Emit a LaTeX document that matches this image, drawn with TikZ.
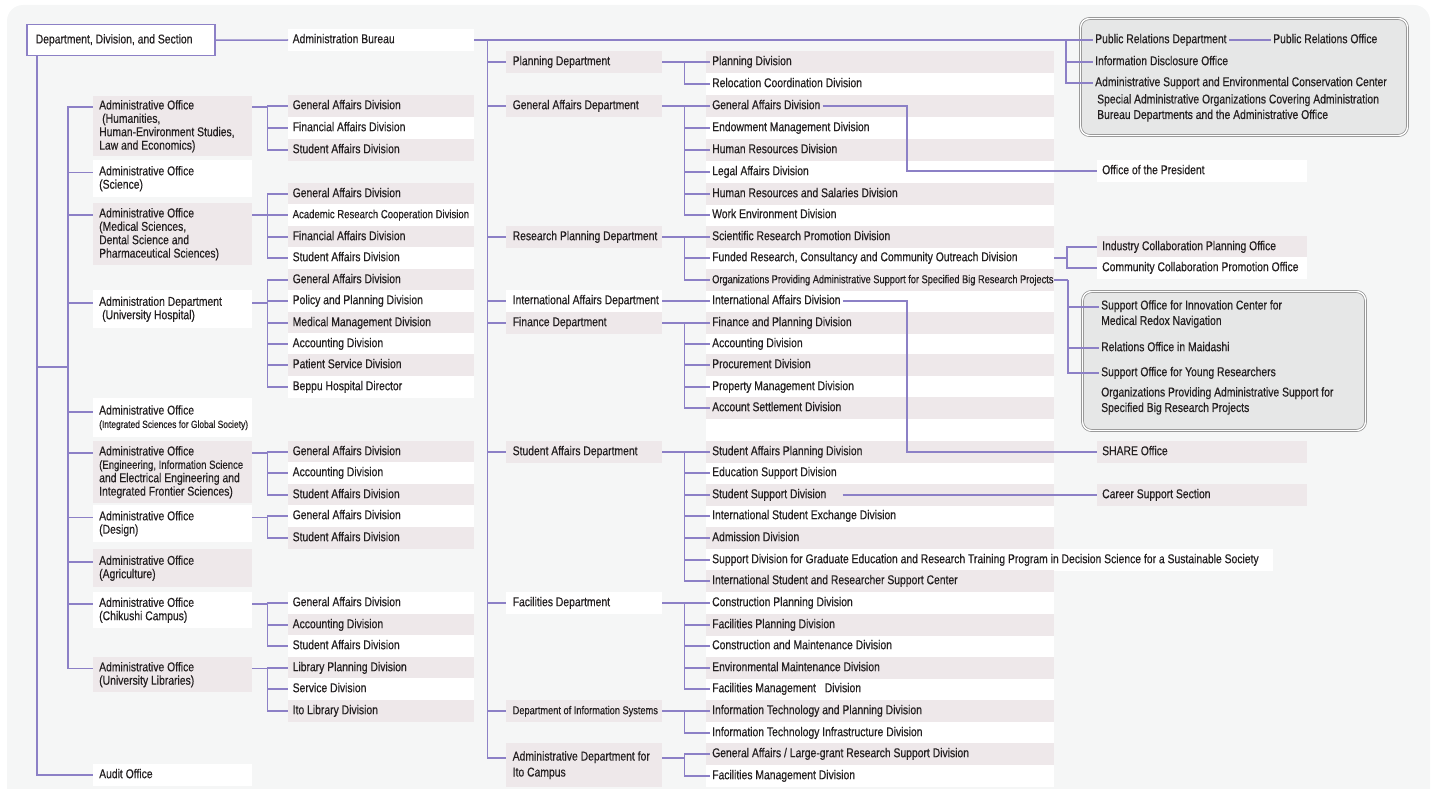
\documentclass[tikz,border=0pt]{standalone}
\usepackage{fontspec}
\setmainfont{Liberation Sans}[FakeStretch=0.81,FakeBold=0.4]
\usetikzlibrary{calc}

\definecolor{pageBg}{HTML}{F5F6F6}
\definecolor{rowShade}{HTML}{EEE8EA}
\definecolor{linkCol}{HTML}{8C80C6}
\definecolor{boxGray}{HTML}{E6E7E7}
\definecolor{ink}{HTML}{231F20}

\newcommand\orgFont{\fontsize{12.8}{13.4}\selectfont}
\newcommand\orgMid{\fontsize{11.8}{13}\selectfont}
\newcommand\orgSmall{\fontsize{11.4}{13}\selectfont}
\newcommand\orgTiny{\fontsize{10.4}{12}\selectfont}
\newcommand\orgNote{\fontsize{12.8}{15.5}\selectfont}

\begin{document}
\begin{tikzpicture}[x=1pt,y=-1pt,
	every node/.style={text=ink,font=\orgFont,inner ysep=0pt,execute at begin node={\spaceskip=0pt\xspaceskip=0pt}},
	link/.style={draw=linkCol,line width=1.5pt},
	elbow/.style={to path={|- (\tikztotarget)}},
	shd/.style={fill=rowShade},
	wht/.style={fill=white},
	cell/.style={anchor=west,align=left,minimum height=21.8pt,text height=9pt,text depth=2.6pt},
	cellC/.style={cell,text width=177pt,inner xsep=4.5pt},
	cellD/.style={cell,text width=143pt,inner xsep=6.5pt},
	cellF/.style={cell,text width=200pt,inner xsep=5pt},
	divText/.style={anchor=west,inner xsep=2pt,text height=9pt,text depth=2.6pt},
	office/.style={anchor=north west,align=left,text width=147pt,inner xsep=6pt},
	boxFrame/.style={fill=boxGray,draw=black!45,line width=0.7pt,double=white,double distance=1.4pt,rounded corners=9pt}]

	% sizes of the division rows
	\def\rowW{348}
	\def\rowH{21.8}

	\useasboundingbox (0,0) rectangle (1437,789);
	\fill[pageBg,rounded corners=16pt] (7,5) rectangle (1430,805);

	% framed groups on the right
	\draw[boxFrame] (1080.5,18.5) rectangle (1407.5,135.5);
	\draw[boxFrame] (1082.5,291.5) rectangle (1365.5,430.5);

	% division rows of the bureau, every second one shaded
	\fill[white] (706,51) rectangle (1054,787);
	\fill[white] (1054,549.1) rectangle (1273,570.9);
	\fill[rowShade] (706,51.1) rectangle +(\rowW,\rowH);
	\fill[rowShade] (706,95.1) rectangle +(\rowW,\rowH);
	\fill[rowShade] (706,139.1) rectangle +(\rowW,\rowH);
	\fill[rowShade] (706,183.1) rectangle +(\rowW,\rowH);
	\fill[rowShade] (706,226.1) rectangle +(\rowW,\rowH);
	\fill[rowShade] (706,269.1) rectangle +(\rowW,\rowH);
	\fill[rowShade] (706,312.1) rectangle +(\rowW,\rowH);
	\fill[rowShade] (706,354.1) rectangle +(\rowW,\rowH);
	\fill[rowShade] (706,397.1) rectangle +(\rowW,\rowH);
	\fill[rowShade] (706,441.1) rectangle +(\rowW,\rowH);
	\fill[rowShade] (706,484.1) rectangle +(\rowW,\rowH);
	\fill[rowShade] (706,527.1) rectangle +(\rowW,\rowH);
	\fill[rowShade] (706,570.1) rectangle +(\rowW,\rowH);
	\fill[rowShade] (706,614.1) rectangle +(\rowW,\rowH);
	\fill[rowShade] (706,657.1) rectangle +(\rowW,\rowH);
	\fill[rowShade] (706,700.1) rectangle +(\rowW,\rowH);
	\fill[rowShade] (706,743.1) rectangle +(\rowW,\rowH);

	% top of the chart
	\node[anchor=north west,align=left,text width=170pt,inner xsep=9pt,minimum height=31pt,text height=9pt,text depth=2.6pt,fill=white,draw=linkCol,line width=1.5pt] (root) at (26,24) {Department, Division, and Section};
	\node[cellC,wht] (bureau) at (288,40) {Administration Bureau};
	\coordinate (trunkB) at (68,367);
	\coordinate (eRight) at (1054,0);
	\coordinate (turnX) at (907,0);

	% administrative offices
	\node[office,shd,minimum height=60pt] (offHum) at (93,96) {Administrative Office\\\hspace*{3pt}(Humanities,\\Human-Environment Studies,\\Law and Economics)};
	\node[office,wht,minimum height=37pt] (offSci) at (93,160) {Administrative Office\\(Science)};
	\node[office,shd,minimum height=62pt] (offMed) at (93,203) {Administrative Office\\(Medical Sciences,\\Dental Science and\\Pharmaceutical Sciences)};
	\node[office,wht,minimum height=38pt] (offHos) at (93,290) {Administration Department\\\hspace*{3pt}(University Hospital)};
	\node[office,wht,minimum height=39pt] (offInt) at (93,398) {Administrative Office\\{\orgTiny\mbox{(Integrated Sciences for Global Society)}}};
	\node[office,shd,minimum height=62pt] (offEng) at (93,441) {Administrative Office\\{\orgMid\mbox{(Engineering, Information Science}}\\and Electrical Engineering and\\Integrated Frontier Sciences)};
	\node[office,wht,minimum height=37pt] (offDes) at (93,505) {Administrative Office\\(Design)};
	\node[office,shd,minimum height=38pt] (offAgr) at (93,549) {Administrative Office\\(Agriculture)};
	\node[office,wht,minimum height=36pt] (offChi) at (93,592) {Administrative Office\\(Chikushi Campus)};
	\node[office,shd,minimum height=35pt] (offLib) at (93,657) {Administrative Office\\(University Libraries)};
	\node[cell,text width=147pt,inner xsep=6pt,wht] (audit) at (93,775) {Audit Office};

	% divisions of the offices
	\node[cellC,shd] (humGA) at (288,106) {General Affairs Division};
	\node[cellC,wht] (humFin) at (288,128) {Financial Affairs Division};
	\node[cellC,shd] (humStu) at (288,150) {Student Affairs Division};
	\node[cellC,shd] (medGA) at (288,194) {General Affairs Division};
	\node[cellC,wht,font=\orgMid] (medAcad) at (288,215) {\mbox{Academic Research Cooperation Division}};
	\node[cellC,shd] (medFin) at (288,237) {Financial Affairs Division};
	\node[cellC,wht] (medStu) at (288,258) {Student Affairs Division};
	\node[cellC,shd] (hosGA) at (288,280) {General Affairs Division};
	\node[cellC,wht] (hosPol) at (288,301) {Policy and Planning Division};
	\node[cellC,shd] (hosMed) at (288,323) {Medical Management Division};
	\node[cellC,wht] (hosAcc) at (288,344) {Accounting Division};
	\node[cellC,shd] (hosPat) at (288,365) {Patient Service Division};
	\node[cellC,wht] (hosBep) at (288,387) {Beppu Hospital Director};
	\node[cellC,shd] (engGA) at (288,452) {General Affairs Division};
	\node[cellC,wht] (engAcc) at (288,473) {Accounting Division};
	\node[cellC,shd] (engStu) at (288,495) {Student Affairs Division};
	\node[cellC,wht] (desGA) at (288,516) {General Affairs Division};
	\node[cellC,shd] (desStu) at (288,538) {Student Affairs Division};
	\node[cellC,wht] (chiGA) at (288,603) {General Affairs Division};
	\node[cellC,shd] (chiAcc) at (288,625) {Accounting Division};
	\node[cellC,wht] (chiStu) at (288,646) {Student Affairs Division};
	\node[cellC,shd] (libPlan) at (288,668) {Library Planning Division};
	\node[cellC,wht] (libSer) at (288,689) {Service Division};
	\node[cellC,shd] (libIto) at (288,711) {Ito Library Division};

	% departments of the bureau
	\node[cellD,shd] (planDept) at (506,62) {Planning Department};
	\node[cellD,shd] (gaDept) at (506,106) {\mbox{General Affairs Department}};
	\node[cellD,shd] (resDept) at (506,237) {\mbox{Research Planning Department}};
	\node[cellD,wht] (intlDept) at (506,301) {\mbox{International Affairs Department}};
	\node[cellD,shd] (finDept) at (506,323) {Finance Department};
	\node[cellD,shd] (stuDept) at (506,452) {\mbox{Student Affairs Department}};
	\node[cellD,wht] (facDept) at (506,603) {Facilities Department};
	\node[cellD,shd,font=\orgSmall] (infoDept) at (506,711) {\mbox{Department of Information Systems}};
	\node[anchor=north west,align=left,text width=143pt,inner xsep=6.5pt,minimum height=44pt,shd] (itoDept) at (506,743) {\mbox{Administrative Department for}\\[2.6pt]Ito Campus};

	% divisions of the bureau
	\node[divText] (planDiv) at (710,62) {Planning Division};
	\node[divText] (relocDiv) at (710,84) {Relocation Coordination Division};
	\node[divText] (gaDiv) at (710,106) {General Affairs Division};
	\node[divText] (endowDiv) at (710,128) {Endowment Management Division};
	\node[divText] (hrDiv) at (710,150) {Human Resources Division};
	\node[divText] (legalDiv) at (710,172) {Legal Affairs Division};
	\node[divText] (salDiv) at (710,194) {Human Resources and Salaries Division};
	\node[divText] (workDiv) at (710,215) {Work Environment Division};
	\node[divText] (sciDiv) at (710,237) {Scientific Research Promotion Division};
	\node[divText] (fundDiv) at (710,258) {Funded Research, Consultancy and Community Outreach Division};
	\node[divText,font=\orgSmall] (orgsDiv) at (710,280) {Organizations Providing Administrative Support for Specified Big Research Projects};
	\node[divText] (intlDiv) at (710,301) {International Affairs Division};
	\node[divText] (finDiv) at (710,323) {Finance and Planning Division};
	\node[divText] (acctDiv) at (710,344) {Accounting Division};
	\node[divText] (procDiv) at (710,365) {Procurement Division};
	\node[divText] (propDiv) at (710,387) {Property Management Division};
	\node[divText] (settleDiv) at (710,408) {Account Settlement Division};
	\node[divText] (saplanDiv) at (710,452) {Student Affairs Planning Division};
	\node[divText] (eduDiv) at (710,473) {Education Support Division};
	\node[divText] (ssDiv) at (710,495) {Student Support Division};
	\node[divText] (exchDiv) at (710,516) {International Student Exchange Division};
	\node[divText] (admDiv) at (710,538) {Admission Division};
	\node[divText] (gradDiv) at (710,560) {Support Division for Graduate Education and Research Training Program in Decision Science for a Sustainable Society};
	\node[divText] (isrDiv) at (710,581) {International Student and Researcher Support Center};
	\node[divText] (conpDiv) at (710,603) {Construction Planning Division};
	\node[divText] (facpDiv) at (710,625) {Facilities Planning Division};
	\node[divText] (conmDiv) at (710,646) {Construction and Maintenance Division};
	\node[divText] (envDiv) at (710,668) {Environmental Maintenance Division};
	\node[divText] (facmDiv) at (710,689) {Facilities Management\hspace{6pt} Division};
	\node[divText] (itpDiv) at (710,711) {Information Technology and Planning Division};
	\node[divText] (itiDiv) at (710,733) {Information Technology Infrastructure Division};
	\node[divText] (largeDiv) at (710,754) {General Affairs / Large-grant Research Support Division};
	\node[divText] (itofmDiv) at (710,776) {Facilities Management Division};

	% offices on the right
	\node[divText] (prDept) at (1093,40) {Public Relations Department};
	\node[divText] (prOff) at (1271,40) {Public Relations Office};
	\node[divText] (infoOff) at (1093,62) {Information Disclosure Office};
	\node[divText] (supCtr) at (1093,83) {Administrative Support and Environmental Conservation Center};
	\node[anchor=north west,align=left,text width=300pt,inner xsep=0pt,font=\orgNote] (noteA) at (1097,94) {Special Administrative Organizations Covering Administration\\Bureau Departments and the Administrative Office};
	\node[cellF,wht] (pres) at (1097,171) {Office of the President};
	\node[cellF,shd] (indCol) at (1097,247) {Industry Collaboration Planning Office};
	\node[cellF,wht] (comCol) at (1097,268) {Community Collaboration Promotion Office};
	\node[anchor=north west,align=left,text width=255pt,inner xsep=2pt,font=\orgNote] (supInno) at (1099,300) {Support Office for Innovation Center for\\Medical Redox Navigation};
	\node[divText] (relMaid) at (1099,348) {Relations Office in Maidashi};
	\node[divText] (youngRes) at (1099,373) {Support Office for Young Researchers};
	\node[anchor=north west,align=left,text width=255pt,inner xsep=2pt,font=\orgNote] (noteB) at (1099,387) {Organizations Providing Administrative Support for\\Specified Big Research Projects};
	\node[cellF,shd] (share) at (1097,452) {SHARE Office};
	\node[cellF,shd] (career) at (1097,495) {Career Support Section};

	% connectors of the left part
	\draw[link] (root.south west) ++(11,0) |- (audit.west);
	\draw[link] (root.south west) ++(11,0) |- (trunkB);
	\draw[link] (trunkB) edge[elbow] (offHum.mid west) edge[elbow] (offSci.mid west) edge[elbow] (offMed.mid west) edge[elbow] (offHos.mid west) edge[elbow] (offInt.mid west) edge[elbow] (offEng.mid west) edge[elbow] (offDes.mid west) edge[elbow] (offAgr.mid west) edge[elbow] (offChi.mid west) edge[elbow] (offLib.mid west);
	\draw[link] (offHum.mid east) -- ++(15,0) edge[elbow] (humGA.west) edge[elbow] (humFin.west) edge[elbow] (humStu.west);
	\draw[link] (offMed.mid east) -- ++(15,0) edge[elbow] (medGA.west) edge[elbow] (medAcad.west) edge[elbow] (medFin.west) edge[elbow] (medStu.west);
	\draw[link] (offHos.mid east) -- ++(15,0) edge[elbow] (hosGA.west) edge[elbow] (hosPol.west) edge[elbow] (hosMed.west) edge[elbow] (hosAcc.west) edge[elbow] (hosPat.west) edge[elbow] (hosBep.west);
	\draw[link] (offEng.mid east) -- ++(15,0) edge[elbow] (engGA.west) edge[elbow] (engAcc.west) edge[elbow] (engStu.west);
	\draw[link] (offDes.mid east) -- ++(15,0) edge[elbow] (desGA.west) edge[elbow] (desStu.west);
	\draw[link] (offChi.mid east) -- ++(15,0) edge[elbow] (chiGA.west) edge[elbow] (chiAcc.west) edge[elbow] (chiStu.west);
	\draw[link] (offLib.mid east) -- ++(15,0) edge[elbow] (libPlan.west) edge[elbow] (libSer.west) edge[elbow] (libIto.west);

	% connectors of the bureau
	\draw[link] (root.east) -- (bureau.west);
	\draw[link] (bureau.east) -- (prDept.west);
	\draw[link] (bureau.east) -- ++(13,0) edge[elbow] (planDept.west) edge[elbow] (gaDept.west) edge[elbow] (resDept.west) edge[elbow] (intlDept.west) edge[elbow] (finDept.west) edge[elbow] (stuDept.west) edge[elbow] (facDept.west) edge[elbow] (infoDept.west) edge[elbow] (itoDept.mid west);
	\draw[link] (planDept.east) -- ++(22,0) edge[elbow] (planDiv.west) edge[elbow] (relocDiv.west);
	\draw[link] (gaDept.east) -- ++(22,0) edge[elbow] (gaDiv.west) edge[elbow] (endowDiv.west) edge[elbow] (hrDiv.west) edge[elbow] (legalDiv.west) edge[elbow] (salDiv.west) edge[elbow] (workDiv.west);
	\draw[link] (resDept.east) -- ++(22,0) edge[elbow] (sciDiv.west) edge[elbow] (fundDiv.west) edge[elbow] (orgsDiv.west);
	\draw[link] (intlDept.east) -- (intlDiv.west);
	\draw[link] (finDept.east) -- ++(22,0) edge[elbow] (finDiv.west) edge[elbow] (acctDiv.west) edge[elbow] (procDiv.west) edge[elbow] (propDiv.west) edge[elbow] (settleDiv.west);
	\draw[link] (stuDept.east) -- ++(22,0) edge[elbow] (saplanDiv.west) edge[elbow] (eduDiv.west) edge[elbow] (ssDiv.west) edge[elbow] (exchDiv.west) edge[elbow] (admDiv.west) edge[elbow] (gradDiv.west) edge[elbow] (isrDiv.west);
	\draw[link] (facDept.east) -- ++(22,0) edge[elbow] (conpDiv.west) edge[elbow] (facpDiv.west) edge[elbow] (conmDiv.west) edge[elbow] (envDiv.west) edge[elbow] (facmDiv.west);
	\draw[link] (infoDept.east) -- ++(22,0) edge[elbow] (itpDiv.west) edge[elbow] (itiDiv.west);
	\draw[link] (itoDept.mid east) -- ++(22,0) edge[elbow] (largeDiv.west) edge[elbow] (itofmDiv.west);

	% connectors of the right part
	\draw[link] (prDept.west) ++(-27,0) edge[elbow] (infoOff.west) edge[elbow] (supCtr.west);
	\draw[link] (prDept.east) -- (prOff.west);
	\draw[link] (gaDiv.east) -- (gaDiv.east -| turnX) |- (pres.west);
	\draw[link] (intlDiv.east) -- (intlDiv.east -| turnX) |- (share.west);
	\draw[link] ([xshift=14pt]ssDiv.east) -- (career.west);
	\draw[link] (fundDiv -| eRight) -- ++(13,0) edge[elbow] (indCol.west) edge[elbow] (comCol.west);
	\draw[link] (orgsDiv -| eRight) -- ++(14,0) edge[elbow] (supInno.mid west) edge[elbow] (relMaid.west) edge[elbow] (youngRes.west);

\end{tikzpicture}
\end{document}
